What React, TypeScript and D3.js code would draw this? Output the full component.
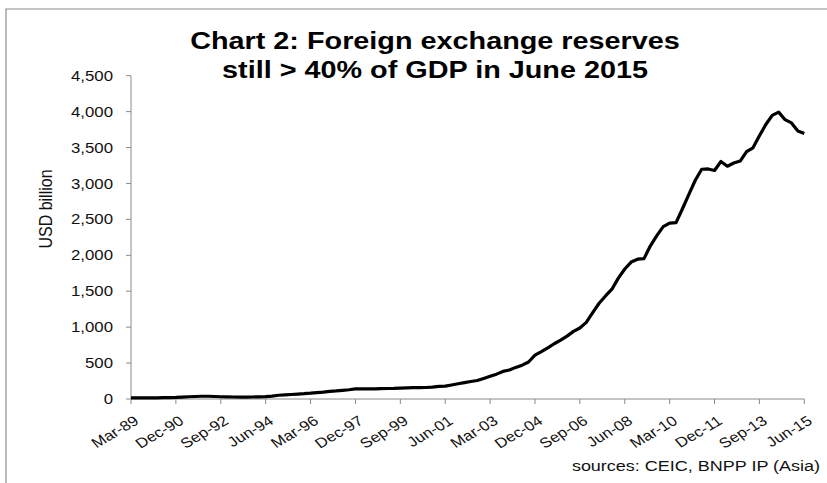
import React from "react";
import * as d3 from "d3";

// Quarterly foreign exchange reserves, USD billion (Mar-89 .. Jun-15)
const quarters: string[] = (() => {
  const m = ["Mar", "Jun", "Sep", "Dec"];
  const out: string[] = [];
  for (let y = 1989; y <= 2015; y++) {
    for (let q = 0; q < 4; q++) {
      if (y === 2015 && q > 1) break;
      out.push(`${m[q]}-${String(y % 100).padStart(2, "0")}`);
    }
  }
  return out;
})();

const reserves: number[] = [
  17, 16, 15, 16, // 1989
  17, 18, 20, 22, // 1990
  27, 31, 35, 38, // 1991
  38, 35, 31, 29, // 1992
  28, 27, 27, 28, // 1993
  30, 34, 41, 52, // 1994
  58, 63, 69, 74, // 1995
  81, 90, 95, 105, // 1996
  112, 121, 129, 140, // 1997
  140, 141, 141, 145, // 1998
  146, 147, 151, 155, // 1999
  157, 159, 160, 166, // 2000
  176, 180, 195, 212, // 2001
  228, 243, 258, 286, // 2002
  316, 346, 384, 403, // 2003
  440, 471, 515, 610, // 2004
  659, 711, 769, 819, // 2005
  875, 941, 988, 1066, // 2006
  1202, 1333, 1434, 1528, // 2007
  1682, 1809, 1906, 1946, // 2008
  1954, 2132, 2273, 2399, // 2009
  2447, 2454, 2648, 2847, // 2010
  3045, 3198, 3202, 3181, // 2011
  3305, 3240, 3285, 3312, // 2012
  3443, 3497, 3663, 3821, // 2013
  3948, 3993, 3888, 3843, // 2014
  3730, 3694, // 2015
];

const xTickLabels: string[] = [
  "Mar-89", "Dec-90", "Sep-92", "Jun-94", "Mar-96", "Dec-97", "Sep-99", "Jun-01",
  "Mar-03", "Dec-04", "Sep-06", "Jun-08", "Mar-10", "Dec-11", "Sep-13", "Jun-15",
];

const yTicks: number[] = [0, 500, 1000, 1500, 2000, 2500, 3000, 3500, 4000, 4500];

const titleLines: string[] = [
  "Chart 2: Foreign exchange reserves",
  "still > 40% of GDP in June 2015",
];
const yAxisTitle = "USD billion";
const sourceText = "sources: CEIC, BNPP IP (Asia)";

const W = 827;
const H = 483;
const SX = 1.2; // horizontal stretch of the reference text
const FONT = "'Liberation Sans', Arial, Helvetica, sans-serif";
const AXIS = "#8a8a8a";

export default function App() {
  const x = d3.scaleLinear().domain([0, reserves.length - 1]).range([131, 804.3]);
  const y = d3.scaleLinear().domain([0, 4500]).range([399, 75.7]);
  const line = d3
    .line<number>()
    .x((_, i) => x(i))
    .y((d) => y(d));
  const fmt = d3.format(",");

  const tickIdx = xTickLabels.map((lab) => quarters.indexOf(lab));

  return (
    <div style={{ position: "absolute", left: 0, top: 0 }}>
      <svg width={W} height={H} style={{ display: "block", background: "#fff" }} fontFamily={FONT}>
        <rect x={0} y={0} width={W} height={H} fill="#fff" />
        {/* frame */}
        <line x1={5.5} x2={W} y1={9} y2={9} stroke="#8c8c8c" strokeWidth={1.2} />
        <line x1={6} x2={6} y1={9} y2={H} stroke="#8c8c8c" strokeWidth={1.2} />

        {/* title */}
        {titleLines.map((t, i) => (
          <text
            key={i}
            transform={`translate(435,${49 + i * 29.3}) scale(${SX},1)`}
            textAnchor="middle"
            fontSize={24}
            fontWeight="bold"
            fill="#000"
          >
            {t}
          </text>
        ))}

        {/* y axis */}
        <line x1={x(0)} x2={x(0)} y1={y(0)} y2={y(4500)} stroke={AXIS} strokeWidth={1} />
        {yTicks.map((v) => (
          <g key={v}>
            <line x1={x(0) - 5} x2={x(0)} y1={y(v)} y2={y(v)} stroke={AXIS} strokeWidth={1} />
            <text
              transform={`translate(113,${y(v)}) scale(${SX},1)`}
              textAnchor="end"
              dy="0.36em"
              fontSize={14}
              fill="#111"
            >
              {fmt(v)}
            </text>
          </g>
        ))}
        <text
          transform={`translate(52,209) scale(${SX},1) rotate(-90)`}
          textAnchor="middle"
          fontSize={16}
          fill="#111"
        >
          {yAxisTitle}
        </text>

        {/* x axis */}
        <line x1={x(0)} x2={x(reserves.length - 1)} y1={y(0)} y2={y(0)} stroke={AXIS} strokeWidth={1} />
        {tickIdx.map((idx, k) => (
          <g key={k}>
            <line x1={x(idx)} x2={x(idx)} y1={y(0)} y2={y(0) + 5} stroke={AXIS} strokeWidth={1} />
            <text
              transform={`translate(${x(idx) + 9},423) scale(${SX},1) rotate(-35)`}
              textAnchor="end"
              fontSize={14}
              fill="#111"
            >
              {xTickLabels[k]}
            </text>
          </g>
        ))}

        {/* series */}
        <path d={line(reserves) || ""} fill="none" stroke="#000" strokeWidth={3.2} strokeLinejoin="round" />

        {/* source */}
        <text transform={`translate(820,471) scale(${SX},1)`} textAnchor="end" fontSize={15} fill="#111">
          {sourceText}
        </text>
      </svg>
    </div>
  );
}
